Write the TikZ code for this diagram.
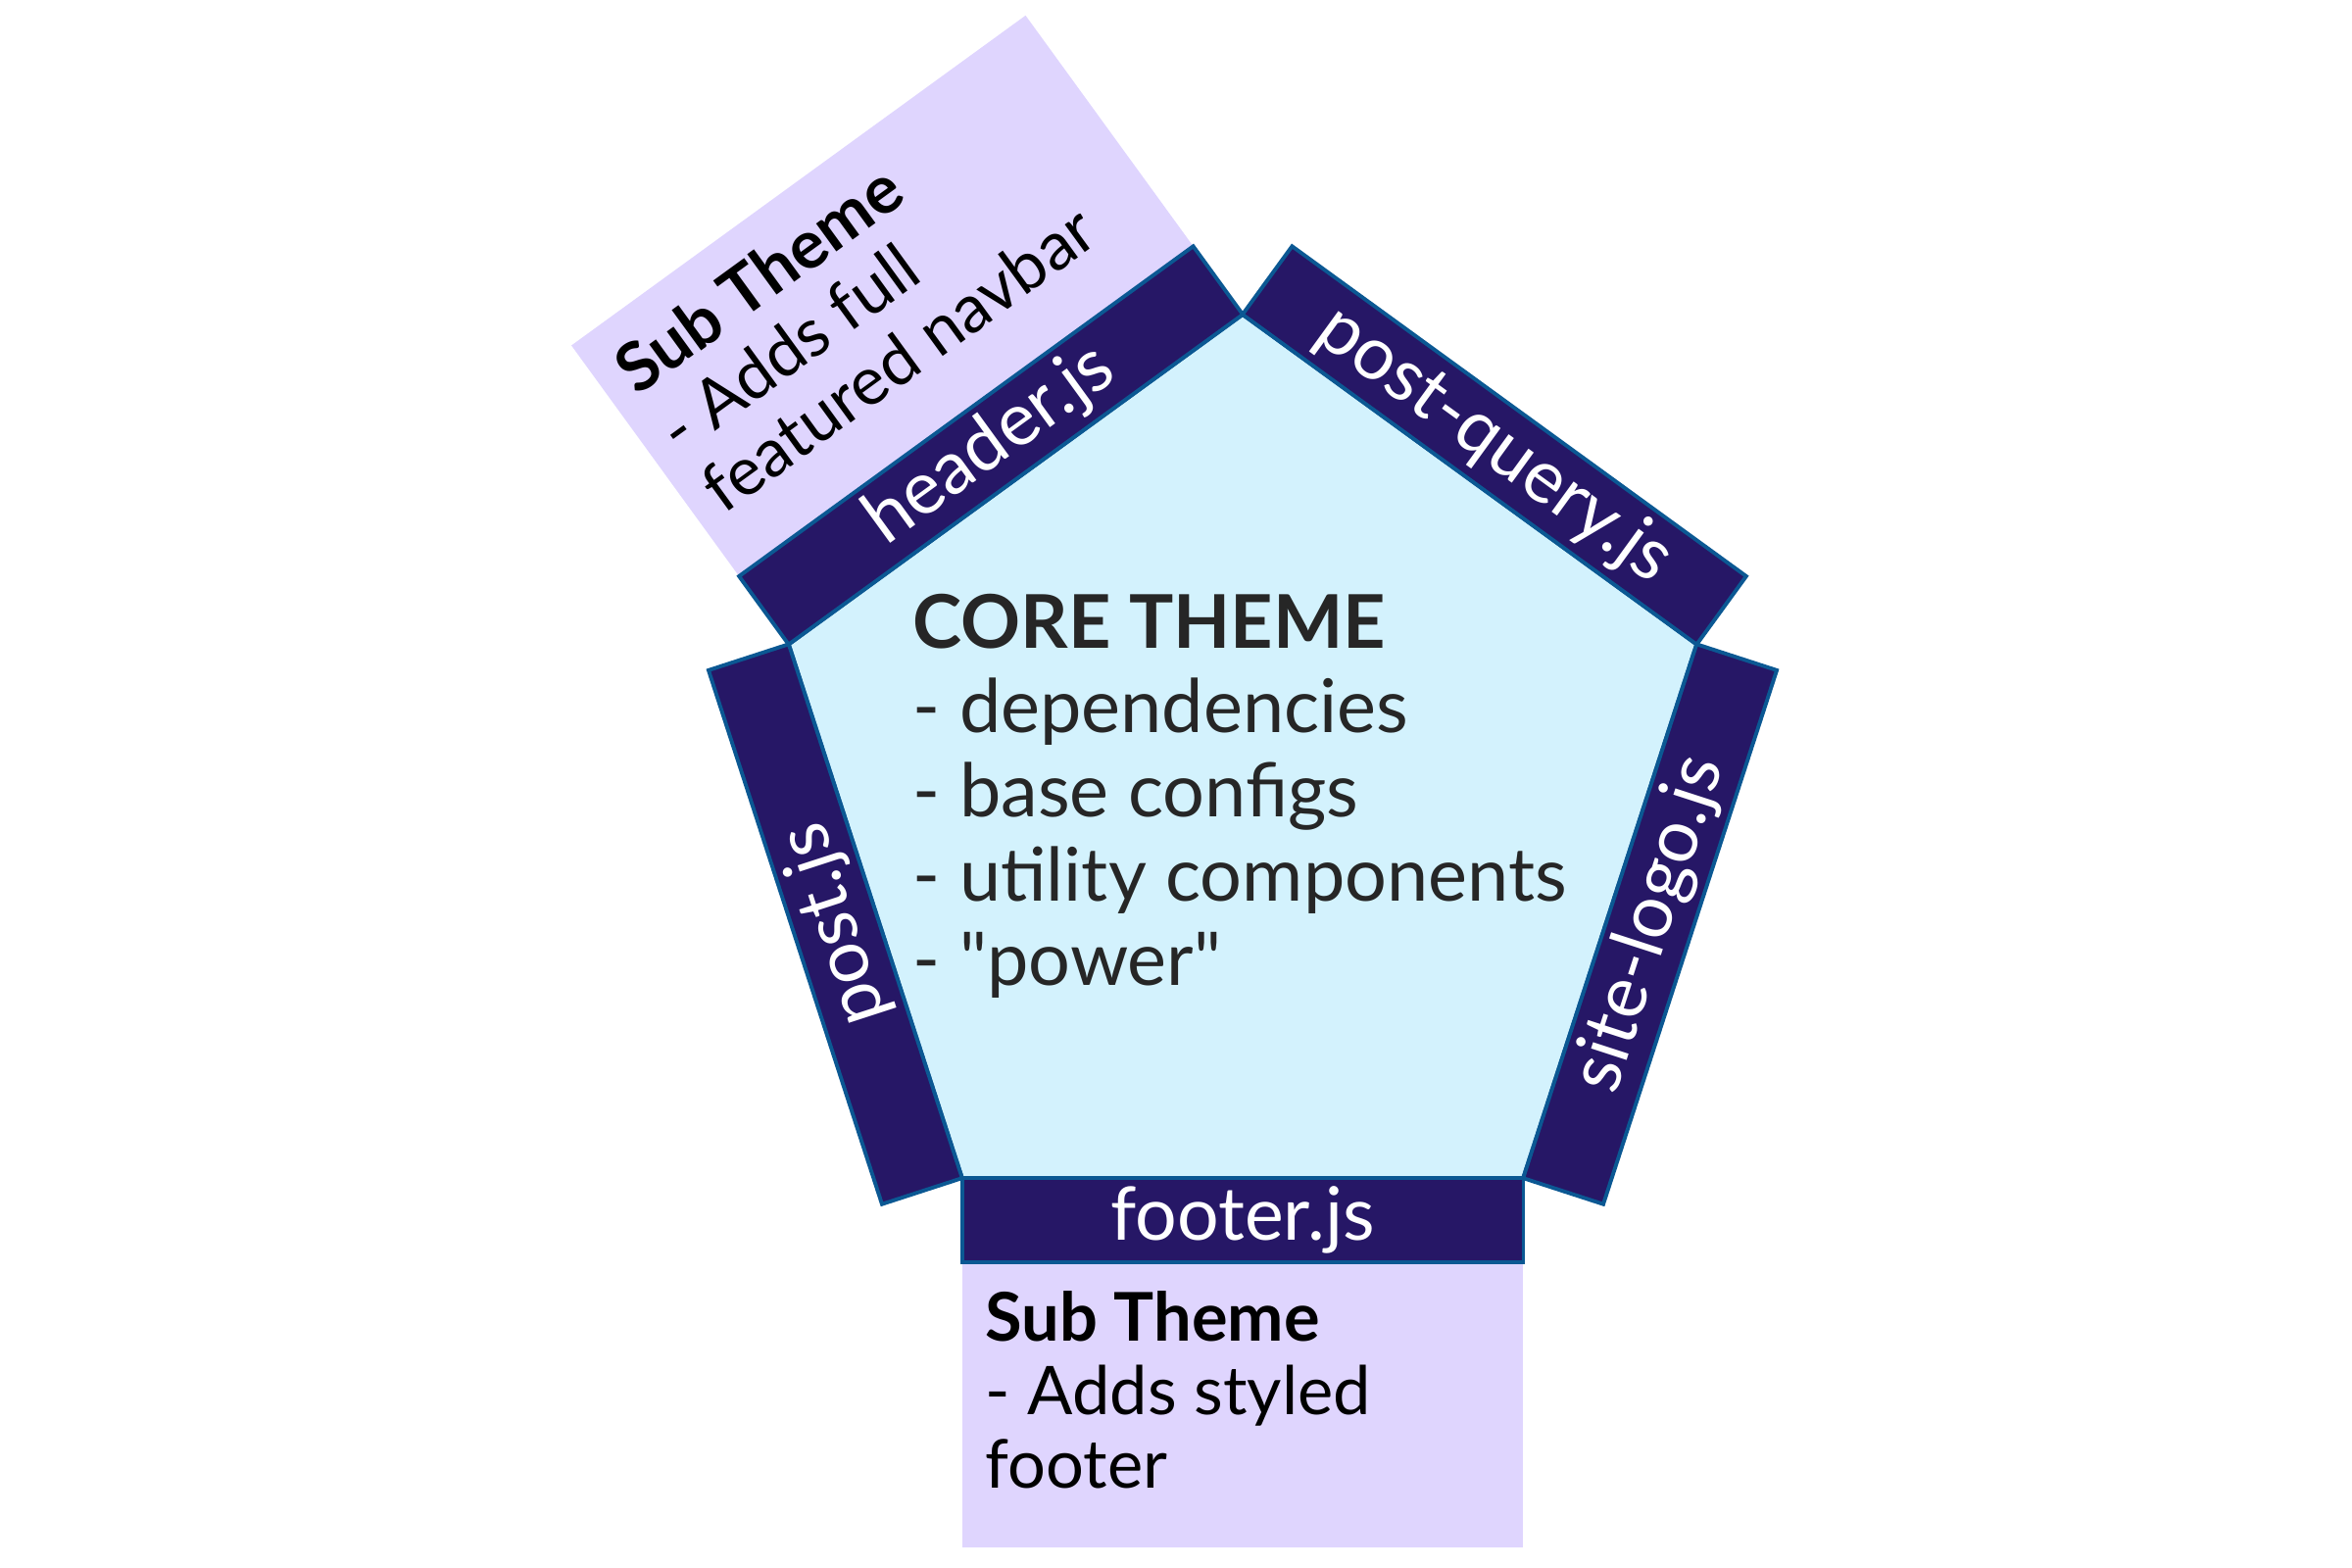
\documentclass[tikz,border=0pt]{standalone}
\usepackage{fontspec}
\setmainfont{Lato}[Ligatures=TeXOff]
\usetikzlibrary{calc}
\definecolor{corefill}{HTML}{D3F2FD}
\definecolor{barfill}{HTML}{261766}
\definecolor{edgeblue}{HTML}{0B5893}
\definecolor{subfill}{HTML}{DFD5FE}
\definecolor{coretext}{HTML}{262626}
\begin{document}
\begin{tikzpicture}[x=0.01cm,y=0.01cm,
  barbox/.style={draw=edgeblue, line width=1.1pt, fill=barfill, text=white,
    minimum width=5.725cm, minimum height=0.86cm, inner sep=0pt,
    font=\fontsize{21.4}{24}\selectfont},
  subbox/.style={fill=subfill, minimum width=5.725cm, minimum height=2.91cm, inner sep=0pt},
  subtext/.style={align=left, inner sep=0pt, font=\fontsize{19.5}{21.3}\selectfont, text=black}]
\useasboundingbox (0,0) rectangle (2400,1600);
\coordinate (C) at (1268,792);
% sub theme boxes
\node[subbox, rotate=36] (subh) at ($(C)+(126:625.5)$) {};
\node[subbox] (subf) at ($(C)+(-90:625.5)$) {};
% core pentagon
\foreach \a [count=\i] in {90,18,-54,-126,162} \coordinate (v\i) at ($(C)+(\a:487)$);
\draw[edgeblue, line width=1.1pt, fill=corefill] (v1)--(v2)--(v3)--(v4)--(v5)--cycle;
% bars
\node[barbox, rotate=36]  (header) at ($(C)+(126:437)$) {header.js};
\node[barbox, rotate=-36] (query)  at ($(C)+(54:437)$) {post-query.js};
\node[barbox, rotate=72]  (logo)   at ($(C)+(-18:437)$) {site-logo.js};
\node[barbox, rotate=0]   (footer) at ($(C)+(-90:437)$) {footer.js};
\node[barbox, rotate=108] (post)   at ($(C)+(198:437)$) {post.js};
% core text (base = last line)
\node[align=left, anchor=base west, inner sep=0pt, text=coretext,
  font=\fontsize{21.5}{24.5}\selectfont] (core) at (931,594)
  {\textbf{CORE THEME}\\- dependencies\\- base configs\\- utility components\\- "power"};
% sub theme texts
\begin{scope}[shift={(subh.south west)}, rotate=36]
\node[subtext, rotate=36, anchor=base west] (subhtext) at (24,60)
  {\textbf{Sub Theme}\\- Adds full\\featured navbar};
\end{scope}
\begin{scope}[shift={(subf.north west)}]
\node[subtext, anchor=base west] (subftext) at (24,-231)
  {\textbf{Sub Theme}\\- Adds styled\\footer};
\end{scope}
\end{tikzpicture}
\end{document}
